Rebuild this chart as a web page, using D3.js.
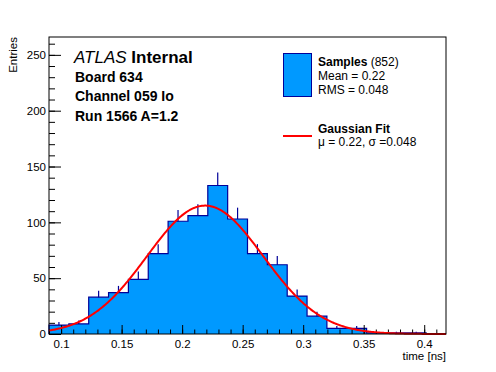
<!DOCTYPE html>
<html>
<head>
<meta charset="utf-8">
<script src="https://cdn.jsdelivr.net/npm/d3@7.9.0/dist/d3.min.js"></script>
<style>
  body { margin: 0; background: #fff; }
  svg { display: block; font-family: "Liberation Sans", Arial, Helvetica, sans-serif; }
</style>
</head>
<body>
<svg id="chart" width="496" height="372"></svg>
<script>
// histogram: 20 bins over the x range
const xRange = [0.09, 0.418];
const counts = [8, 9, 33, 37, 49, 72, 101, 106, 133, 103, 72, 62, 34, 16, 5, 5, 1, 1, 1, 0];
const xMajor = [0.1, 0.15, 0.2, 0.25, 0.3, 0.35, 0.4];
const yMajor = [0, 50, 100, 150, 200, 250];
const yMax = 266;

// gaussian fit parameters
const fitConst = 115;
const fitMean = 0.219;
const fitSigma = 0.048;

const infoLines = ['Board 634', 'Channel 059 Io', 'Run 1566 A=1.2'];

const svg = d3.select('#chart');
const frame = { left: 49, right: 446, top: 37, bottom: 334 };
const blue = '#0099ff', dark = '#000099';

const x = d3.scaleLinear().domain(xRange).range([frame.left, frame.right]);
const y = d3.scaleLinear().domain([0, yMax]).range([frame.bottom, frame.top]);

const nBins = counts.length;
const bw = (xRange[1] - xRange[0]) / nBins;
const edge = i => xRange[0] + i * bw;

// error bars first, the fill hides the lower half
svg.append('g').selectAll('line')
  .data(counts.map((c, i) => ({ c, i })).filter(d => d.c > 0))
  .join('line')
  .attr('x1', d => x(edge(d.i) + bw / 2))
  .attr('x2', d => x(edge(d.i) + bw / 2))
  .attr('y1', d => y(d.c - Math.sqrt(d.c)))
  .attr('y2', d => y(d.c + Math.sqrt(d.c)))
  .attr('stroke', dark)
  .attr('stroke-width', 1.2);

// filled steps + outline
const pts = [[edge(0), 0]].concat(counts.map((c, i) => [edge(i), c]));
pts.push([edge(nBins), counts[nBins - 1]], [edge(nBins), 0]);
svg.append('path')
  .attr('d', d3.area().x(d => x(d[0])).y0(y(0)).y1(d => y(d[1])).curve(d3.curveStepAfter)(pts))
  .attr('fill', blue);
svg.append('path')
  .attr('d', d3.line().x(d => x(d[0])).y(d => y(d[1])).curve(d3.curveStepAfter)(pts))
  .attr('fill', 'none')
  .attr('stroke', dark)
  .attr('stroke-width', 1.2);

// axes, ticks pointing into the frame
const xMinor = d3.range(9, 42).map(v => v / 100);
svg.append('g')
  .attr('transform', `translate(0,${frame.bottom})`)
  .call(d3.axisBottom(x).tickValues(xMinor).tickSize(-4.5).tickFormat(''))
  .call(g => g.select('.domain').remove());
svg.append('g')
  .attr('transform', `translate(0,${frame.bottom})`)
  .call(d3.axisBottom(x).tickValues(xMajor).tickSize(-9).tickPadding(6).tickFormat(d3.format('')))
  .attr('font-family', null).attr('font-size', 11.5)
  .call(g => g.select('.domain').remove());

const yMinor = d3.range(0, 261, 10);
svg.append('g')
  .attr('transform', `translate(${frame.left},0)`)
  .call(d3.axisLeft(y).tickValues(yMinor).tickSize(-6).tickFormat(''))
  .call(g => g.select('.domain').remove());
svg.append('g')
  .attr('transform', `translate(${frame.left},0)`)
  .call(d3.axisLeft(y).tickValues(yMajor).tickSize(-12).tickPadding(3))
  .attr('font-family', null).attr('font-size', 11.5)
  .call(g => g.select('.domain').remove());

svg.append('text')
  .attr('transform', `translate(17,${frame.top}) rotate(-90)`)
  .attr('text-anchor', 'end')
  .attr('font-size', 11.5)
  .text('Entries');
svg.append('text')
  .attr('x', frame.right).attr('y', 360)
  .attr('text-anchor', 'end')
  .attr('font-size', 11.5)
  .text('time [ns]');

// gaussian curve
const gauss = v => fitConst * Math.exp(-0.5 * ((v - fitMean) / fitSigma) ** 2);
const xs = d3.range(0, 401).map(k => xRange[0] + k * (xRange[1] - xRange[0]) / 400);
svg.append('path')
  .attr('d', d3.line().x(v => x(v)).y(v => y(gauss(v)))(xs))
  .attr('fill', 'none')
  .attr('stroke', '#ff0000')
  .attr('stroke-width', 2);

// frame
svg.append('rect')
  .attr('x', frame.left).attr('y', frame.top)
  .attr('width', frame.right - frame.left).attr('height', frame.bottom - frame.top)
  .attr('fill', 'none').attr('stroke', '#000').attr('stroke-width', 1);

// labels top left
const atlas = svg.append('text').attr('x', 74).attr('y', 63).attr('font-size', 17);
atlas.append('tspan').attr('font-style', 'italic').text('ATLAS');
atlas.append('tspan').attr('font-weight', 'bold').text(' Internal');
svg.append('g').selectAll('text')
  .data(infoLines)
  .join('text')
  .attr('x', 75)
  .attr('y', (d, i) => 82 + i * 19.3)
  .attr('font-size', 14)
  .attr('font-weight', 'bold')
  .text(d => d);

// legend
svg.append('rect')
  .attr('x', 283.5).attr('y', 53.5).attr('width', 28).attr('height', 43)
  .attr('fill', blue).attr('stroke', dark).attr('stroke-width', 1);
const s = svg.append('text').attr('x', 318).attr('y', 66).attr('font-size', 12);
s.append('tspan').attr('font-weight', 'bold').text('Samples');
s.append('tspan').text(' (852)');
svg.append('text').attr('x', 318).attr('y', 80).attr('font-size', 12).text('Mean = 0.22');
svg.append('text').attr('x', 318).attr('y', 94).attr('font-size', 12).text('RMS = 0.048');

svg.append('line')
  .attr('x1', 283).attr('x2', 312).attr('y1', 136).attr('y2', 136)
  .attr('stroke', '#ff0000').attr('stroke-width', 2);
svg.append('text').attr('x', 318).attr('y', 133).attr('font-size', 12)
  .attr('font-weight', 'bold').text('Gaussian Fit');
svg.append('text').attr('x', 318).attr('y', 146).attr('font-size', 12)
  .text('\u03bc = 0.22, \u03c3 =0.048');
</script>
</body>
</html>
